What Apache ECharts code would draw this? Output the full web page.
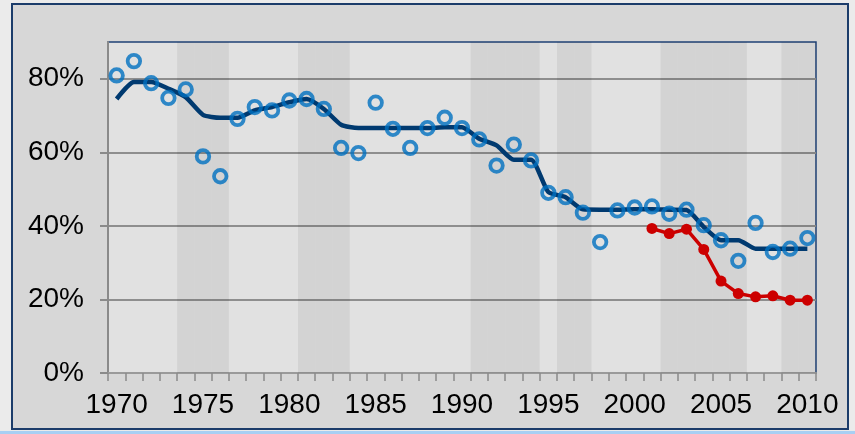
<!DOCTYPE html>
<html>
<head>
<meta charset="utf-8">
<script src="https://cdn.jsdelivr.net/npm/echarts@6/dist/echarts.min.js"></script>
<style>
  html, body { margin: 0; padding: 0; background: #ebebeb; }
  #chart { width: 855px; height: 434px; }
</style>
</head>
<body>
<div id="chart"></div>
<script>
// years on the x axis
var years = ['1970','1971','1972','1973','1974','1975','1976','1977','1978','1979',
  '1980','1981','1982','1983','1984','1985','1986','1987','1988','1989',
  '1990','1991','1992','1993','1994','1995','1996','1997','1998','1999',
  '2000','2001','2002','2003','2004','2005','2006','2007','2008','2009','2010'];

// shaded (grey dotted) years
var shadedYears = ['1974','1975','1976','1981','1982','1983','1991','1992','1993','1994',
  '1996','1997','2002','2003','2004','2005','2006','2009','2010'];

// dark blue smoothed line (%)
var trendValues = [74.5,79.1,79.1,77.3,75.0,70.2,69.4,69.4,71.4,72.3,
  73.6,74.5,71.8,67.5,66.6,66.6,66.6,66.6,66.6,66.8,
  66.8,63.7,61.9,58.0,58.0,49.2,47.8,44.5,44.4,44.4,
  44.5,44.5,44.4,44.3,39.7,36.1,36.1,33.8,33.8,33.8,33.8];

// open circles (%)
var circleValues = [80.9,84.8,78.8,74.8,77.1,58.9,53.5,69.1,72.3,71.4,
  74.1,74.5,71.8,61.2,59.8,73.5,66.4,61.2,66.6,69.4,
  66.6,63.5,56.4,62.1,57.8,49.0,47.8,43.6,35.6,44.2,
  45.0,45.3,43.3,44.4,40.2,36.1,30.5,40.8,32.9,33.8,36.7];

// red line (%)
var redYears = ['2001','2002','2003','2004','2005','2006','2007','2008','2009','2010'];
var redValues = [39.3,37.9,39.1,33.6,25.0,21.6,20.7,21.0,19.8,19.8];

var yTicks = [0, 20, 40, 60, 80];

var font = "'Liberation Sans Narrow', 'Arial Narrow', 'Liberation Sans', sans-serif";

var bandData = years.map(function (y) {
  return shadedYears.indexOf(y) >= 0 ? 90 : '-';
});
var redData = redYears.map(function (y, i) { return [y, redValues[i]]; });

var chart = echarts.init(document.getElementById('chart'));
chart.setOption({
  backgroundColor: '#ebebeb',
  animation: false,
  graphic: [
    { type: 'rect', z: -10, shape: { x: 12, y: 4, width: 836, height: 425 },
      style: { fill: '#d7d7d7', stroke: '#1b3c6a', lineWidth: 2 } },
    { type: 'rect', z: -10, shape: { x: 0, y: 431, width: 855, height: 3 },
      style: { fill: '#a8cff3' } }
  ],
  grid: {
    left: 108, top: 42, right: 39, bottom: 61,
    show: true,
    backgroundColor: '#e1e1e1',
    borderColor: '#1f4275',
    borderWidth: 1.5
  },
  xAxis: {
    type: 'category',
    data: years,
    boundaryGap: true,
    axisLine: { lineStyle: { color: '#9a9a9a', width: 2 } },
    axisTick: { show: true, interval: 0, length: 8, lineStyle: { color: '#8a8a8a', width: 1.5 } },
    axisLabel: { interval: 4, margin: 18, color: '#000', fontSize: 28, fontFamily: font },
    splitLine: { show: false }
  },
  yAxis: {
    type: 'value',
    min: 0,
    max: 90,
    axisLine: { show: true, lineStyle: { color: '#8a8a8a', width: 2 } },
    axisTick: { show: true, length: 8, customValues: yTicks, lineStyle: { color: '#8a8a8a', width: 2 } },
    axisLabel: { customValues: yTicks, margin: 24, color: '#000', fontSize: 28, fontFamily: font,
      formatter: function (v) { return v + '%'; } },
    splitLine: { show: true, lineStyle: { color: '#8e8e8e', width: 2 } }
  },
  series: [
    {
      name: 'shade',
      type: 'bar',
      data: bandData,
      barWidth: '100%',
      barCategoryGap: '0%',
      silent: true,
      itemStyle: { color: 'rgba(0,0,0,0.058)' },
      z: 1
    },
    {
      name: 'trend',
      type: 'line',
      data: trendValues,
      smooth: 0.2,
      symbol: 'none',
      lineStyle: { color: '#003a70', width: 4.5 },
      z: 3
    },
    {
      name: 'circles',
      type: 'scatter',
      data: circleValues,
      symbol: 'circle',
      symbolSize: 12.5,
      itemStyle: { color: 'rgba(0,0,0,0)', borderColor: '#0070c0', borderWidth: 3.8 },
      z: 4
    },
    {
      name: 'red',
      type: 'line',
      data: redData,
      symbol: 'circle',
      symbolSize: 11,
      lineStyle: { color: '#cc0000', width: 3.5 },
      itemStyle: { color: '#cc0000' },
      z: 5
    }
  ]
});
</script>
</body>
</html>
